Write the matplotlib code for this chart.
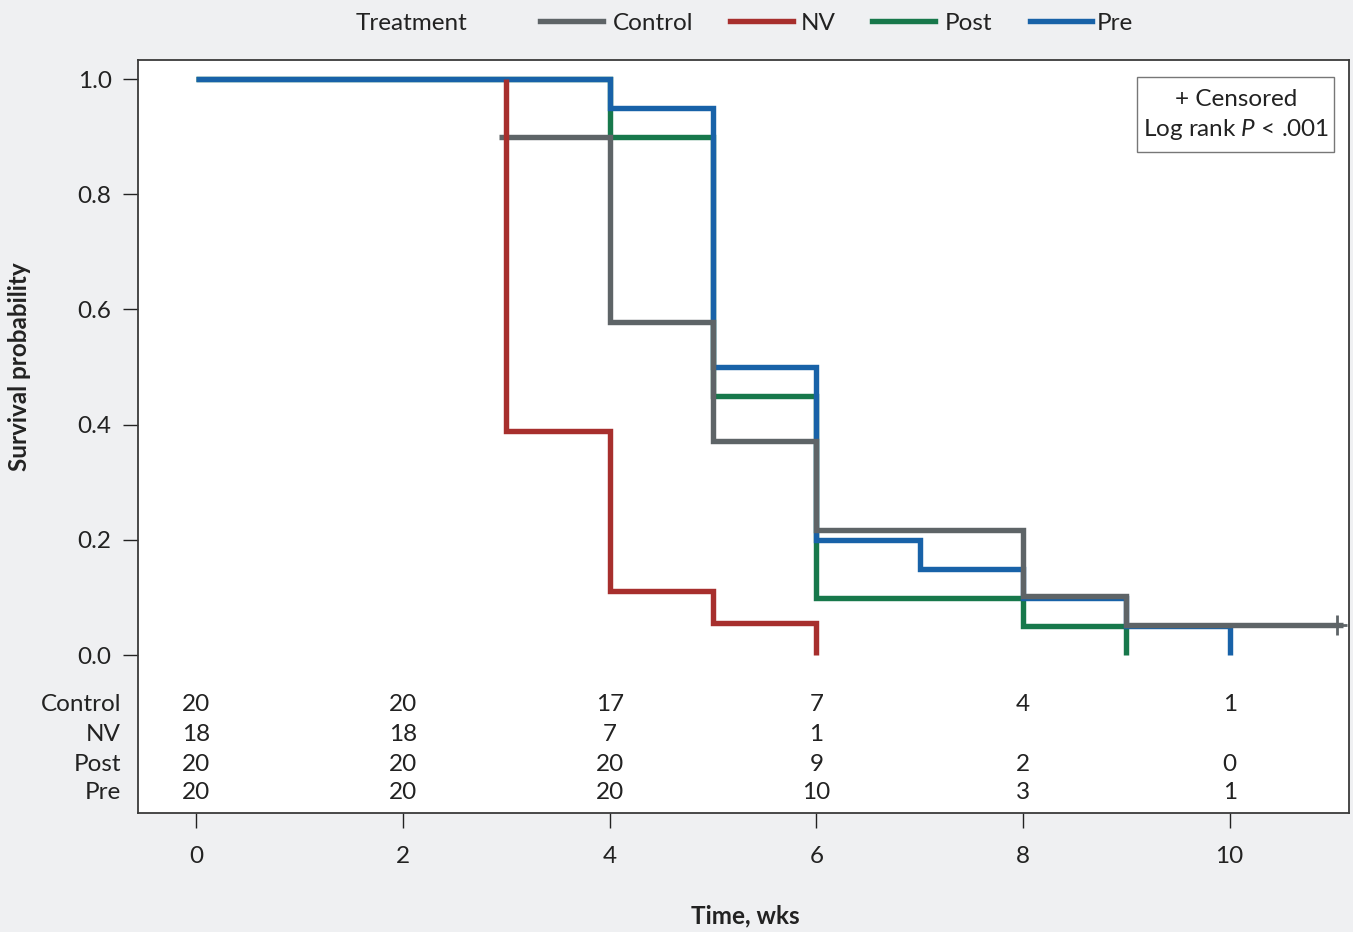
import matplotlib
matplotlib.use("Agg")
import matplotlib.pyplot as plt
from matplotlib.lines import Line2D
from matplotlib.patches import Rectangle
from matplotlib import transforms

plt.rcParams['font.family'] = ['Lato', 'DejaVu Sans']
plt.rcParams['mathtext.fontset'] = 'custom'
plt.rcParams['mathtext.it'] = 'Lato:italic'
plt.rcParams['mathtext.rm'] = 'Lato'

# Kaplan-Meier curves (step, post)
groups = ['Control', 'NV', 'Post', 'Pre']
colors = {'Control': '#5e6467', 'NV': '#a72f2d', 'Post': '#17784b', 'Pre': '#1862a8'}

control_t = [2.93, 4, 5, 6, 8, 9, 11.1]
control_s = [0.90, 0.579, 0.372, 0.217, 0.103, 0.052, 0.052]
nv_t = [3, 3, 4, 5, 6]
nv_s = [1.0, 0.389, 0.111, 0.056, 0.0]
post_t = [0, 4, 5, 6, 8, 9]
post_s = [1.0, 0.90, 0.45, 0.10, 0.05, 0.0]
pre_t = [0, 4, 5, 6, 7, 8, 9, 10]
pre_s = [1.0, 0.95, 0.50, 0.20, 0.15, 0.10, 0.05, 0.0]

censor_t = [11.04]
censor_s = [0.052]

# numbers at risk
risk_times = [0, 2, 4, 6, 8, 10]
at_risk = {
    'Control': [20, 20, 17, 7, 4, 1],
    'NV': [18, 18, 7, 1, None, None],
    'Post': [20, 20, 20, 9, 2, 0],
    'Pre': [20, 20, 20, 10, 3, 1],
}
risk_rows = [-0.086, -0.137, -0.189, -0.239]

bg = '#eff0f2'
fs = 17.5

fig = plt.figure(figsize=(13.53, 9.32), dpi=100, facecolor=bg)
ax = fig.add_axes([138 / 1353, 1 - 813 / 932, (1349 - 138) / 1353, (813 - 60) / 932])
ax.set_facecolor('white')

lw = 3.9
curves = [('Post', post_t, post_s), ('Pre', pre_t, pre_s),
          ('Control', control_t, control_s), ('NV', nv_t, nv_s)]
for name, t, s in curves:
    ax.step(t, s, where='post', color=colors[name], lw=lw,
            solid_joinstyle='miter', solid_capstyle='butt')
ax.plot(censor_t, censor_s, marker='+', ls='none', color=colors['Control'],
        markersize=15, mew=2)

ax.set_xlim(-0.565, 11.155)
ax.set_ylim(-0.274, 1.033)
ax.set_xticks([0, 2, 4, 6, 8, 10])
ax.set_yticks([0.0, 0.2, 0.4, 0.6, 0.8, 1.0])
ax.set_yticklabels(['0.0', '0.2', '0.4', '0.6', '0.8', '1.0'])
ax.tick_params(axis='y', direction='out', length=11, width=1, pad=8,
               labelsize=fs, colors='#222222')
ax.tick_params(axis='x', direction='out', length=11, width=1, pad=13,
               labelsize=fs, colors='#222222')
for sp in ax.spines.values():
    sp.set_color('#3a3a3a')
    sp.set_linewidth(1.3)

# risk table
blend = transforms.blended_transform_factory(fig.transFigure, ax.transData)
for row, name in zip(risk_rows, groups):
    fig.text(121 / 1353, row, name, transform=blend, ha='right', va='center',
             fontsize=fs, color='#222222')
    for t, n in zip(risk_times, at_risk[name]):
        if n is not None:
            ax.text(t, row, str(n), ha='center', va='center', fontsize=fs,
                    color='#222222')

# censored / log-rank box
ax.add_patch(Rectangle((0.825, 0.8778), 0.1627, 0.0996, transform=ax.transAxes,
                       facecolor='white', edgecolor='#777777', lw=1.0))
ax.text(0.9067, 0.9470, '+ Censored', transform=ax.transAxes, ha='center',
        va='center', fontsize=fs, color='#222222')
ax.text(0.9067, 0.9072, r'Log rank $P$ < .001', transform=ax.transAxes,
        ha='center', va='center', fontsize=fs, color='#222222')

# labels
fig.text(745 / 1353, 1 - 916 / 932, 'Time, wks', ha='center', va='center',
         fontsize=fs, fontweight='bold', color='#222222')
fig.text(20 / 1353, 1 - 367 / 932, 'Survival probability', ha='center',
         va='center', rotation=90, fontsize=fs, fontweight='bold', color='#222222')

# legend across the top
ly = 1 - 21 / 932
fig.text(412 / 1353, ly - 2 / 932, 'Treatment', ha='center', va='center',
         fontsize=fs, color='#222222')
leg_x = {'Control': (540, 603, 613), 'NV': (730, 793, 801),
         'Post': (872, 935, 945), 'Pre': (1030, 1092, 1097)}
for name in groups:
    x0, x1, xt = leg_x[name]
    fig.add_artist(Line2D([x0 / 1353, x1 / 1353], [ly, ly], color=colors[name],
                          lw=lw, transform=fig.transFigure))
    fig.text(xt / 1353, ly - 2 / 932, name, ha='left', va='center', fontsize=fs,
             color='#222222')

fig.savefig('out.png', dpi=100, facecolor=bg)
